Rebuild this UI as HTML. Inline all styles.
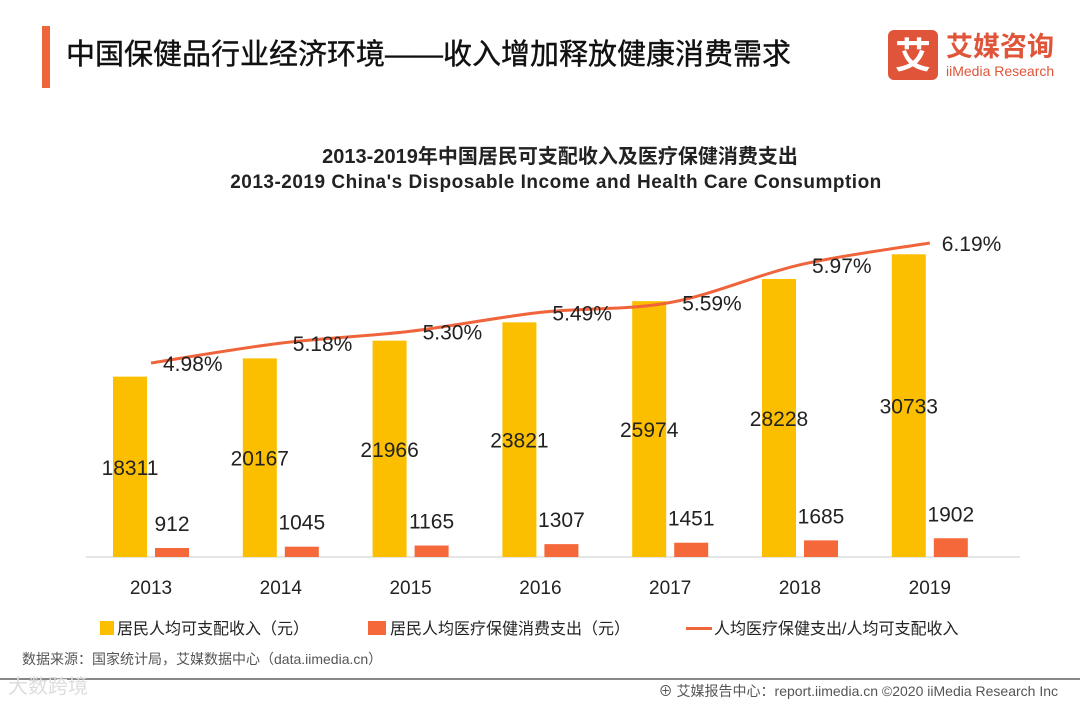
<!DOCTYPE html>
<html><head><meta charset="utf-8">
<style>
body{margin:0;width:1080px;height:702px;background:#fff;overflow:hidden;font-family:"Liberation Sans","Noto Sans CJK SC",sans-serif;}
svg text{font-family:"Liberation Sans","Noto Sans CJK SC",sans-serif;}
</style></head><body>
<svg width="1080" height="702">
<rect x="42" y="26" width="8" height="62" fill="#f0643c"/>
<text x="66" y="64" font-size="29" fill="#111" stroke="#111" stroke-width="0.4">中国保健品行业经济环境——收入增加释放健康消费需求</text>
<rect x="888" y="30" width="50" height="50" rx="6" fill="#e0553a"/>
<text x="913" y="68" font-size="36" fill="#fff" text-anchor="middle" font-weight="bold">艾</text>
<text x="946" y="56" font-size="27" fill="#e0553a" font-weight="bold">艾媒咨询</text>
<text x="946" y="76" font-size="14" fill="#e0553a">iiMedia Research</text>
<text x="560" y="163" font-size="20" font-weight="bold" fill="#222" text-anchor="middle">2013-2019年中国居民可支配收入及医疗保健消费支出</text>
<text x="556" y="188" font-size="19" font-weight="bold" fill="#222" text-anchor="middle" letter-spacing="0.5">2013-2019  China's Disposable Income and Health Care Consumption</text>
<g id="plot"></g>
<g>
<rect x="100" y="621" width="14" height="14" fill="#fbbf00"/>
<text x="117" y="634" font-size="16" fill="#222">居民人均可支配收入（元）</text>
<rect x="368" y="621" width="18" height="14" fill="#f5683a"/>
<text x="390" y="634" font-size="16" fill="#222">居民人均医疗保健消费支出（元）</text>
<rect x="686" y="627" width="26" height="3" fill="#f0643c"/>
<text x="714" y="634" font-size="16" fill="#222">人均医疗保健支出/人均可支配收入</text>
</g>
<text x="22" y="664" font-size="14" fill="#555">数据来源：国家统计局，艾媒数据中心（data.iimedia.cn）</text>
<rect x="0" y="678" width="1080" height="2" fill="#888"/>
<text x="8" y="693" font-size="20" fill="#ddd">大数跨境</text>
<text x="1058" y="696" font-size="14" fill="#555" text-anchor="end">⊕ 艾媒报告中心：report.iimedia.cn ©2020  iiMedia Research  Inc</text>
</svg>
<script>
const years=["2013","2014","2015","2016","2017","2018","2019"];
const income=[18311,20167,21966,23821,25974,28228,30733];
const health=[912,1045,1165,1307,1451,1685,1902];
const ratio=[4.98,5.18,5.30,5.49,5.59,5.97,6.19];
const ratioLabels=["4.98%","5.18%","5.30%","5.49%","5.59%","5.97%","6.19%"];
const NS="http://www.w3.org/2000/svg";
const g=document.getElementById('plot');
const base=557;
const xc=i=>151+i*129.8;
const yv=v=>base-v*0.00985;
const yr=p=>363-(p-4.98)*99.2;
function mk(t,a){const e=document.createElementNS(NS,t);for(const k in a)e.setAttribute(k,a[k]);g.appendChild(e);return e;}
const ax=mk('line',{x1:86,x2:1020,y1:base,y2:base,stroke:'#ccc','stroke-width':1});


years.forEach((y,i)=>{
 const b=mk('rect',{x:xc(i)-38,y:yv(income[i]),width:34,height:base-yv(income[i]),fill:'#fbbf00'});
 
 
 const h=mk('rect',{x:xc(i)+4,y:yv(health[i]),width:34,height:base-yv(health[i]),fill:'#f5683a'});
 
 
 const t1=mk('text',{x:xc(i)-21,y:(yv(income[i])+base)/2+8,'font-size':21,fill:'#222','text-anchor':'middle'});t1.textContent=income[i];
 
 
 const t2=mk('text',{x:xc(i)+21,y:yv(health[i])-17,'font-size':21,fill:'#222','text-anchor':'middle'});t2.textContent=health[i];
 
 
 const tx=mk('text',{x:xc(i),y:594,'font-size':19,fill:'#222','text-anchor':'middle'});tx.textContent=y;
 
 
});
const pts=ratio.map((r,i)=>[xc(i),yr(r)]);
let d='M'+pts[0][0]+','+pts[0][1];
for(let i=0;i<pts.length-1;i++){
 const p0=pts[Math.max(0,i-1)],p1=pts[i],p2=pts[i+1],p3=pts[Math.min(pts.length-1,i+2)];
 const c1=[p1[0]+(p2[0]-p0[0])/6,p1[1]+(p2[1]-p0[1])/6];
 const c2=[p2[0]-(p3[0]-p1[0])/6,p2[1]-(p3[1]-p1[1])/6];
 d+=' C'+c1[0]+','+c1[1]+' '+c2[0]+','+c2[1]+' '+p2[0]+','+p2[1];
}
const ln=mk('path',{d:d,fill:'none',stroke:'#f0643c','stroke-width':3});


ratio.forEach((r,i)=>{
 const t=mk('text',{x:xc(i)+12,y:yr(r)+8,'font-size':21,fill:'#222'});t.textContent=ratioLabels[i];
 
 
});
</script>
</body></html>
